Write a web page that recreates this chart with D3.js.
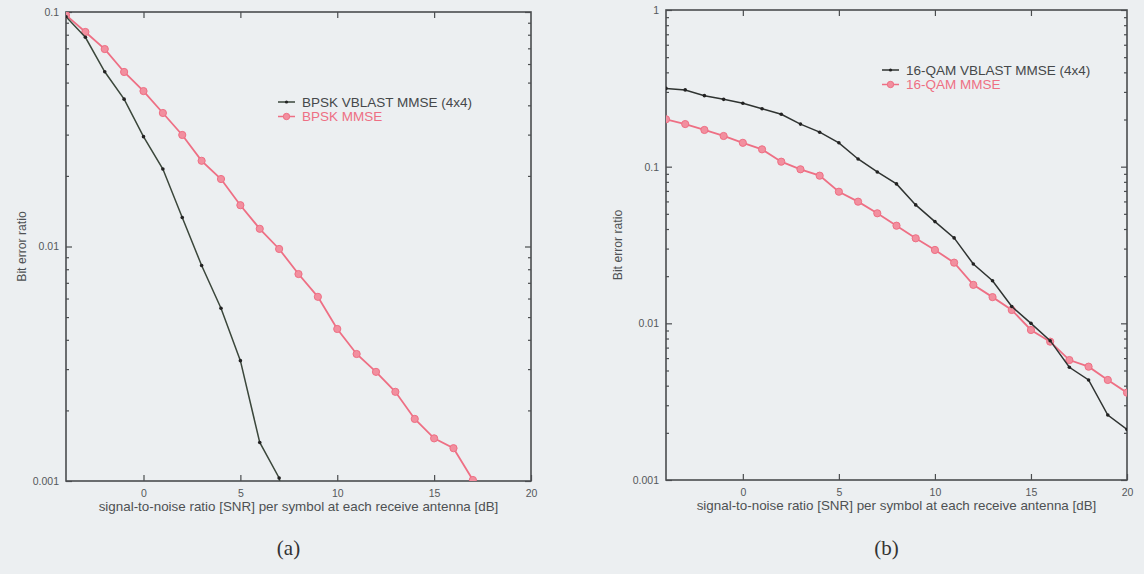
<!DOCTYPE html>
<html>
<head>
<meta charset="utf-8">
<script src="https://cdn.jsdelivr.net/npm/d3@7"></script>
<style>
    body { margin: 0; background: #eceff1; }
    svg { display: block; }
    text { font-family: "Liberation Sans", Arial, sans-serif; }
</style>
</head>
<body>
<div id="figure"></div>
<script>
// SNR values in dB (x axis, shared by every series)
const snrDb = [-4, -3, -2, -1, 0, 1, 2, 3, 4, 5, 6, 7, 8, 9, 10, 11, 12, 13, 14, 15, 16, 17, 18, 19, 20];

// panel (a): BPSK
const bpskVblast = [0.0955, 0.078, 0.0556, 0.0425, 0.0294, 0.0214, 0.0133, 0.0083, 0.00545, 0.00326, 0.00146, 0.00103, 0.0004];
const bpskMmse = [0.097, 0.0822, 0.0695, 0.0555, 0.046, 0.0371, 0.0299, 0.0232, 0.0194, 0.015, 0.0119, 0.00976,
    0.00763, 0.0061, 0.00445, 0.00348, 0.00292, 0.0024, 0.00184, 0.00152, 0.00138, 0.00101];

// panel (b): 16-QAM
const qamVblast = [0.316, 0.309, 0.284, 0.269, 0.254, 0.234, 0.216, 0.187, 0.166, 0.142, 0.112, 0.0925, 0.0776,
    0.057, 0.0446, 0.0351, 0.0239, 0.0187, 0.0128, 0.0100, 0.00775, 0.00524, 0.00435, 0.0026, 0.0021];
const qamMmse = [0.2007, 0.187, 0.1715, 0.157, 0.142, 0.129, 0.1076, 0.0962, 0.0876, 0.0692, 0.0598, 0.0504, 0.042,
    0.0349, 0.0294, 0.0244, 0.0176, 0.0147, 0.01217, 0.00907, 0.00764, 0.00583, 0.00529, 0.00435, 0.00361];

const xTicks = [0, 5, 10, 15, 20];
const legendA = ["BPSK VBLAST MMSE (4x4)", "BPSK MMSE"];
const legendB = ["16-QAM VBLAST MMSE (4x4)", "16-QAM MMSE"];

const xTitle = "signal-to-noise ratio [SNR] per symbol at each receive antenna [dB]";
const yTitle = "Bit error ratio";

const W = 1144, H = 574;
const axisColor = "#4a4d4f";
const labelColor = "#55585a";
const pink = "#ee6f84";

const svg = d3.select("#figure").append("svg")
    .attr("width", W)
    .attr("height", H);

svg.append("rect").attr("width", W).attr("height", H).attr("fill", "#eceff1");

/**
 * Draw one gnuplot-like panel with a log y axis.
 */
function drawPanel(p) {
    const g = svg.append("g").attr("transform", `translate(${p.left},${p.top})`);
    const w = p.width, h = p.height;

    const x = d3.scaleLinear().domain([-4, 20]).range([0, w]);
    const y = d3.scaleLog().domain(p.yDomain).range([h, 0]);

    const major = y.ticks().filter(d => Math.abs(Math.log10(d) - Math.round(Math.log10(d))) < 1e-9);
    const minor = y.ticks().filter(d => major.indexOf(d) < 0);

    // ticks point into the plot, on all four sides
    g.append("g").call(d3.axisLeft(y).tickValues(major).tickSize(-6).tickPadding(7)
        .tickFormat(d3.format("~g")));
    g.append("g").call(d3.axisLeft(y).tickValues(minor).tickSize(-3).tickFormat(""));
    g.append("g").attr("transform", `translate(${w},0)`)
        .call(d3.axisRight(y).tickValues(major).tickSize(-6).tickFormat(""));
    g.append("g").attr("transform", `translate(${w},0)`)
        .call(d3.axisRight(y).tickValues(minor).tickSize(-3).tickFormat(""));
    g.append("g").attr("transform", `translate(0,${h})`)
        .call(d3.axisBottom(x).tickValues(xTicks).tickSize(-6).tickPadding(9));
    g.append("g").call(d3.axisTop(x).tickValues(xTicks.filter(d => d < 20)).tickSize(-6).tickFormat(""));

    g.selectAll(".domain").remove();
    g.selectAll(".tick line").attr("stroke", axisColor).attr("stroke-width", 1.2);
    g.selectAll(".tick text").attr("fill", labelColor).style("font-size", "10.5px");

    g.append("rect")
        .attr("width", w).attr("height", h)
        .attr("fill", "none")
        .attr("stroke", axisColor)
        .attr("stroke-width", 1.6);

    // axis titles
    g.append("text")
        .attr("x", w / 2).attr("y", h + 30)
        .attr("text-anchor", "middle")
        .attr("fill", "#4e5153")
        .style("font-size", "13.4px")
        .text(xTitle);
    g.append("text")
        .attr("transform", `translate(${p.yTitleX},${h / 2}) rotate(-90)`)
        .attr("text-anchor", "middle")
        .attr("fill", "#4e5153")
        .style("font-size", "12.2px")
        .text(yTitle);

    // curves
    const clipId = "clip-" + p.name;
    g.append("clipPath").attr("id", clipId)
        .append("rect").attr("width", w).attr("height", h);
    const plot = g.append("g").attr("clip-path", `url(#${clipId})`);

    const line = d3.line()
        .x((d, i) => x(snrDb[i]))
        .y(d => y(d));

    plot.append("path").datum(p.red)
        .attr("fill", "none").attr("stroke", pink).attr("stroke-width", 1.8)
        .attr("d", line);
    plot.selectAll(".redDot").data(p.red).enter().append("circle")
        .attr("class", "redDot")
        .attr("cx", (d, i) => x(snrDb[i])).attr("cy", d => y(d))
        .attr("r", 3.6)
        .attr("fill", "#f28f9f").attr("stroke", pink).attr("stroke-width", 1);

    plot.append("path").datum(p.black)
        .attr("fill", "none").attr("stroke", p.blackColor).attr("stroke-width", 1.5)
        .attr("d", line);
    plot.selectAll(".blackDot").data(p.black).enter().append("circle")
        .attr("class", "blackDot")
        .attr("cx", (d, i) => x(snrDb[i])).attr("cy", d => y(d))
        .attr("r", 1.8)
        .attr("fill", "#222");

    // legend
    const lg = svg.append("g").attr("transform", `translate(${p.legendX},${p.legendY})`);
    const colors = [p.blackColor, pink];
    p.legend.forEach((label, i) => {
        const row = lg.append("g").attr("transform", `translate(0,${i * 14.5})`);
        row.append("line").attr("x1", 0).attr("x2", 17)
            .attr("stroke", colors[i]).attr("stroke-width", 1.5);
        if (i === 0) {
            row.append("circle").attr("cx", 8.5).attr("r", 1.6).attr("fill", "#222");
        } else {
            row.append("circle").attr("cx", 8.5).attr("r", 3.2)
                .attr("fill", "#f28f9f").attr("stroke", pink);
        }
        row.append("text").attr("x", 24).attr("dy", "0.36em")
            .attr("fill", i === 0 ? "#45484a" : pink)
            .style("font-size", "13.5px")
            .text(label);
    });

    // panel caption
    svg.append("text")
        .attr("x", p.left + w / 2 - 10).attr("y", 555)
        .attr("text-anchor", "middle")
        .attr("fill", "#333")
        .style("font-family", "'Liberation Serif', 'DejaVu Serif', serif")
        .style("font-size", "21px")
        .text(p.caption);
}

drawPanel({
    name: "a", left: 66, top: 12, width: 465, height: 469,
    yDomain: [0.001, 0.1], yTitleX: -40,
    black: bpskVblast, red: bpskMmse, blackColor: "#3b473b",
    legend: legendA, legendX: 278, legendY: 102, caption: "(a)"
});

drawPanel({
    name: "b", left: 666, top: 10, width: 461, height: 470,
    yDomain: [0.001, 1], yTitleX: -44,
    black: qamVblast, red: qamMmse, blackColor: "#2f3331",
    legend: legendB, legendX: 882, legendY: 70, caption: "(b)"
});
</script>
</body>
</html>
